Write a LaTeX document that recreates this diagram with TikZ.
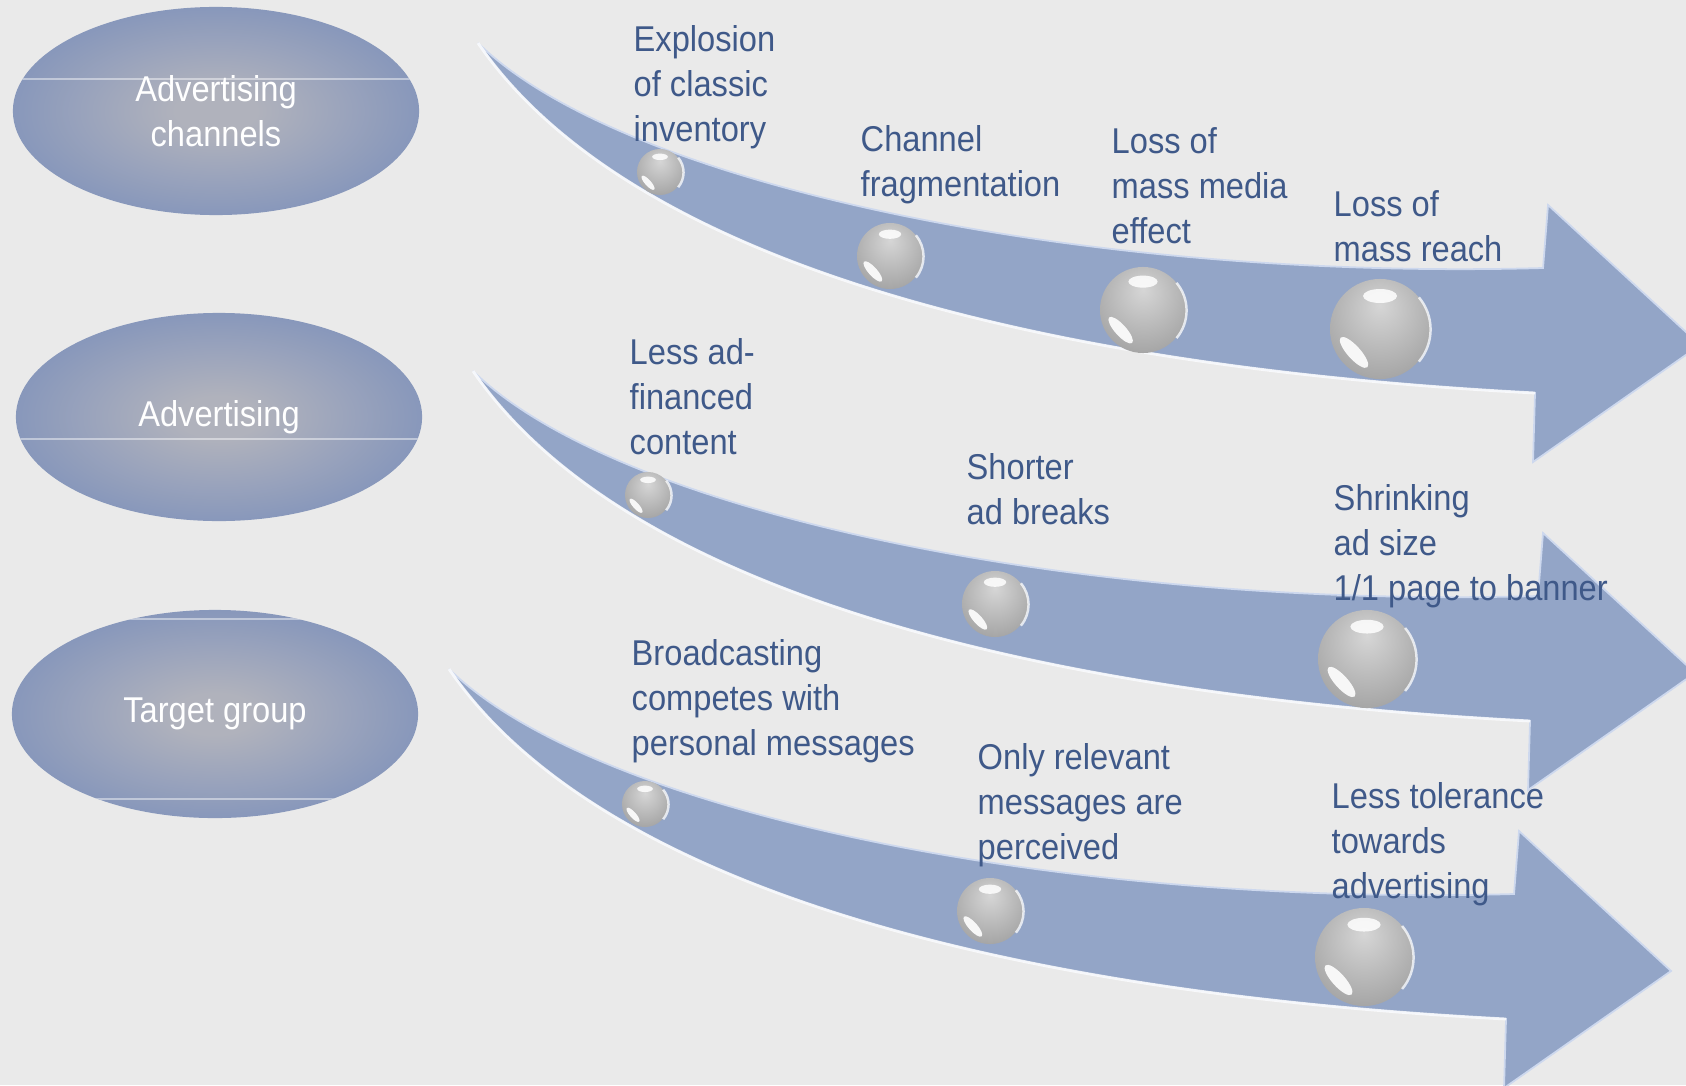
\documentclass[tikz,border=0pt]{standalone}
\usepackage{fontspec}
\setmainfont{Liberation Sans}[FakeStretch=0.91]
\usepackage{tikz}
\usetikzlibrary{shapes.geometric}

\definecolor{bgGray}{RGB}{234,234,234}
\definecolor{arrowBlue}{RGB}{147,165,199}
\definecolor{arrowRim}{RGB}{205,216,238}
\definecolor{ellOut}{RGB}{120,141,187}
\definecolor{ellIn}{RGB}{176,178,188}
\definecolor{lblBlue}{RGB}{63,89,137}
\definecolor{beadLt}{RGB}{214,214,214}
\definecolor{beadMid}{RGB}{168,168,168}
\definecolor{beadDk}{RGB}{128,128,128}

\pgfdeclareradialshading{ellGlow}{\pgfpoint{0bp}{0bp}}{color(0bp)=(ellIn); color(5bp)=(ellIn); color(33bp)=(ellOut); color(60bp)=(ellOut)}
\pgfdeclareradialshading{beadGlow}{\pgfpoint{0bp}{12bp}}{color(0bp)=(beadLt); color(30bp)=(beadMid); color(55bp)=(beadDk); color(70bp)=(beadDk)}

\newcommand{\lblfont}{\fontsize{10.2}{12.8}\selectfont}

\begin{document}
\begin{tikzpicture}[x=0.01cm, y=-0.01cm]
    \tikzstyle{myEll}=[ellipse, minimum width=4.06cm, minimum height=2.08cm, inner sep=0pt,
        shading=ellGlow, text=white, align=center, font=\lblfont]
    \tikzstyle{myLbl}=[anchor=north west, align=left, inner sep=0pt, text=lblBlue, font=\lblfont]
    \tikzstyle{myBead}=[circle, inner sep=0pt, shading=beadGlow]

    \fill[bgGray] (0,0) rectangle (1686,1085);
    \useasboundingbox (0,0) rectangle (1686,1085);
    \clip (0,0) rectangle (1686,1085);

    % bent arrows
    \foreach \tx/\ty in {478/43, 473/371, 449/669} {
        \begin{scope}[shift={(\tx,\ty)}]
            \fill[arrowBlue, draw=arrowRim, line width=0.5pt]
                (0,0) .. controls (142,207) and (522,322) .. (1057,350)
                -- (1055,419) -- (1222,302) -- (1070,162) -- (1065,225)
                .. controls (600,238) and (142,140) .. (0,0) -- cycle;
            \draw[white, line width=0.8pt, opacity=0.8]
                (0,0) .. controls (142,207) and (522,322) .. (1057,350);
        \end{scope}
    }

    % beads
    \foreach \nm/\bx/\by/\br in {b11/660/172/23, b12/890/256/33, b13/1143/310/43, b14/1380/329/50,
                                 b21/648/495/23, b22/995/604/33, b23/1367/659/49,
                                 b31/645/804/23, b32/990/911/33, b33/1364/957/49} {
        \node[myBead, minimum size=\br*0.02cm] (\nm) at (\bx,\by) {};
        \fill[white, opacity=0.85] (\bx,\by-0.66*\br) ellipse [x radius=0.34*\br, y radius=0.14*\br];
        \fill[white, opacity=0.9, rotate around={-48:(\bx,\by)}]
            (\bx,\by+0.7*\br) ellipse [x radius=0.4*\br, y radius=0.13*\br];
        \draw[white, opacity=0.75, line width=0.7pt] (\nm.-40) arc [start angle=-40, end angle=40, radius=\br*0.01cm];
    }

    % labels
    \node[myLbl] (explo) at (633,19) {\strut Explosion\\of classic\\inventory};
    \node[myLbl] (frag) at (860,119) {\strut Channel\\fragmentation};
    \node[myLbl] (massfx) at (1111,121) {\strut Loss of\\mass media\\effect};
    \node[myLbl] (reach) at (1333,184) {\strut Loss of\\mass reach};
    \node[myLbl] (lessad) at (629,332) {\strut Less ad-\\financed\\content};
    \node[myLbl] (breaks) at (966,447) {\strut Shorter\\ad breaks};
    \node[myLbl] (adsize) at (1333,478) {\strut Shrinking\\ad size\\1/1 page to banner};
    \node[myLbl] (broad) at (631,633) {\strut Broadcasting\\competes with\\personal messages};
    \node[myLbl] (relev) at (977,737) {\strut Only relevant\\messages are\\perceived};
    \node[myLbl] (toler) at (1331,776) {\strut Less tolerance\\towards\\advertising};

    % ellipses
    \node[myEll] (advch) at (216,111) {Advertising\\channels};
    \node[myEll] (adv) at (219,417) {Advertising};
    \node[myEll] (target) at (215,714) {Target group};

    \begin{scope}
        \clip (216,111) ellipse [x radius=203, y radius=104];
        \draw[white, opacity=0.45, line width=0.4pt] (0,79) -- (440,79);
    \end{scope}
    \begin{scope}
        \clip (219,417) ellipse [x radius=203, y radius=104];
        \draw[white, opacity=0.45, line width=0.4pt] (0,439) -- (440,439);
    \end{scope}
    \begin{scope}
        \clip (215,714) ellipse [x radius=203, y radius=104];
        \draw[white, opacity=0.45, line width=0.4pt] (0,619) -- (440,619) (0,799) -- (440,799);
    \end{scope}
\end{tikzpicture}
\end{document}
